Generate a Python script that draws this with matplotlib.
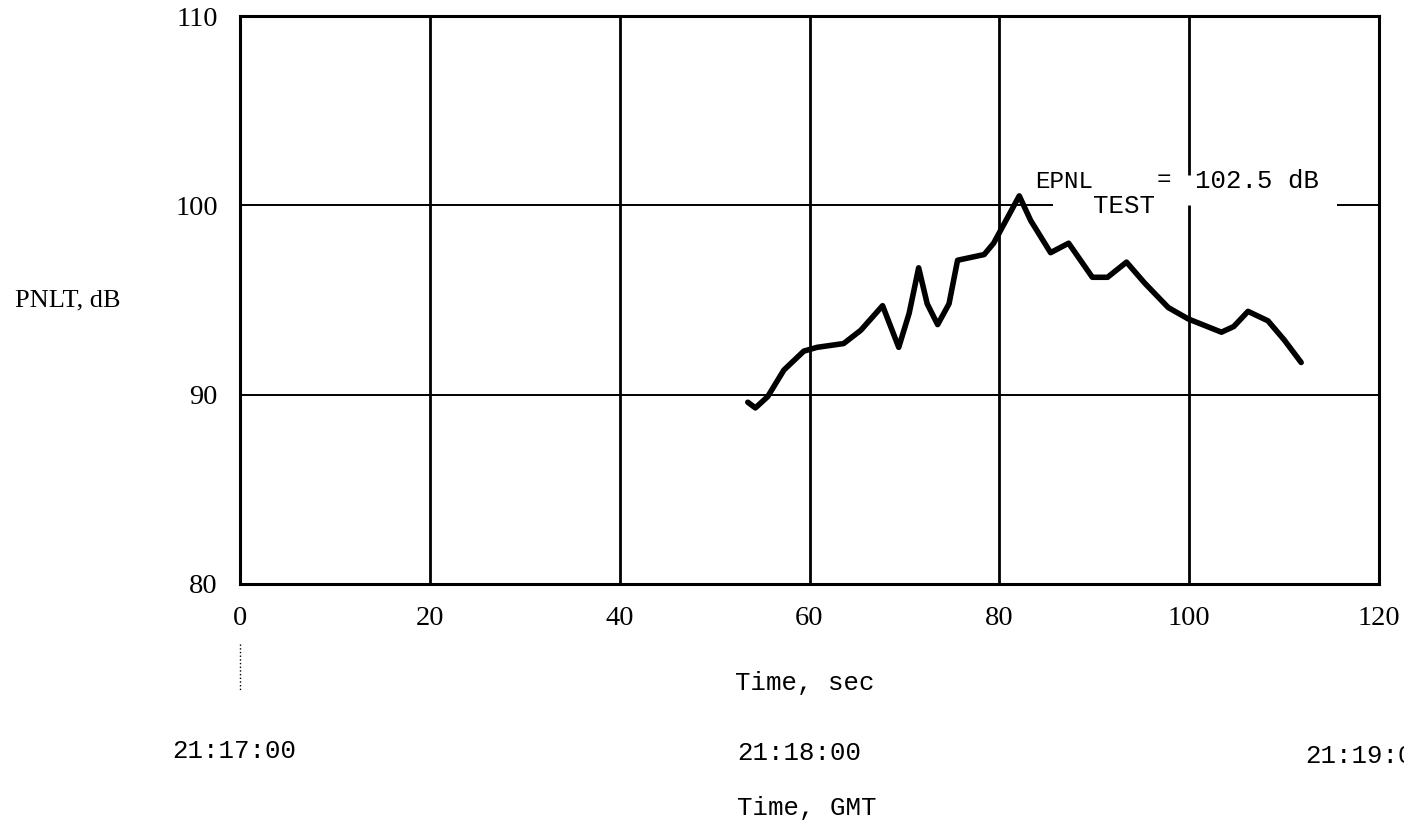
import matplotlib
matplotlib.use("Agg")
import matplotlib.pyplot as plt

# PNLT trace
time_sec = [53.5, 54.3, 55.6, 57.3, 59.4, 60.8, 63.6, 65.4, 67.7, 69.4, 70.5,
            71.5, 72.4, 73.5, 74.7, 75.6, 78.4, 79.4, 82.1, 83.3, 85.4, 87.3,
            89.8, 91.4, 93.4, 95.3, 97.8, 99.9, 103.4, 104.7, 106.2, 108.3,
            110.0, 111.8]
pnlt_db = [89.6, 89.3, 89.9, 91.3, 92.3, 92.5, 92.7, 93.4, 94.7, 92.5, 94.3,
           96.7, 94.8, 93.7, 94.8, 97.1, 97.4, 98.0, 100.5, 99.2, 97.5, 98.0,
           96.2, 96.2, 97.0, 95.9, 94.6, 94.0, 93.3, 93.6, 94.4, 93.9,
           92.9, 91.7]

x_ticks = [0, 20, 40, 60, 80, 100, 120]
y_ticks = [80, 90, 100, 110]
v_grid = [20, 40, 60, 80, 100]
h_grid = [90, 100]

serif = "Liberation Serif"
mono = "Liberation Mono"

W, H = 1404, 824
fig = plt.figure(figsize=(W / 100, H / 100), dpi=100)
ax = fig.add_axes([240 / W, 1 - 584 / H, (1379 - 240) / W, (584 - 16) / H])
ax.set_xlim(0, 120)
ax.set_ylim(80, 110)

# grid, broken where the EPNL label sits
for gx in v_grid:
    if gx == 100:
        ax.vlines(gx, 80, 100.0, color="black", lw=2)
        ax.vlines(gx, 101.6, 110, color="black", lw=2)
    else:
        ax.vlines(gx, 80, 110, color="black", lw=2)
for gy in h_grid:
    if gy == 100:
        ax.hlines(gy, 0, 85.7, color="black", lw=1.4)
        ax.hlines(gy, 115.6, 120, color="black", lw=1.4)
    else:
        ax.hlines(gy, 0, 120, color="black", lw=1.4)

ax.plot(time_sec, pnlt_db, color="black", lw=4, solid_joinstyle="round",
        solid_capstyle="round")

ax.set_xticks(x_ticks)
ax.set_yticks(y_ticks)
ax.tick_params(length=0, labelsize=20.5, pad=16)
for lab in ax.get_xticklabels() + ax.get_yticklabels():
    lab.set_fontfamily(serif)
for s in ax.spines.values():
    s.set_linewidth(2.2)

# EPNL annotation
ax.text(83.8, 100.9, "EPNL", family=mono, fontsize=17.5, va="baseline")
ax.text(89.9, 99.6, "TEST", family=mono, fontsize=18.5, va="baseline")
ax.text(96.6, 101.0, "=", family=mono, fontsize=17.5, va="baseline")
ax.text(100.6, 100.9, "102.5 dB", family=mono, fontsize=18.5, va="baseline")

# dotted marker under zero
ax.plot([0, 0], [-0.105, -0.187], transform=ax.get_xaxis_transform(),
        clip_on=False, color="black", lw=1, ls=":")

def ftext(px, py, s, **kw):
    fig.text(px / W, 1 - py / H, s, va="baseline", ha="left", **kw)

ftext(15, 306, "PNLT, dB", family=serif, fontsize=19)
ftext(735, 690, "Time, sec", family=mono, fontsize=18.5)
ftext(172, 758, "21:17:00", family=mono, fontsize=18.5)
ftext(737, 760, "21:18:00", family=mono, fontsize=18.5)
ftext(1305, 763, "21:19:00", family=mono, fontsize=18.5)
ftext(737, 815, "Time, GMT", family=mono, fontsize=18.5)

fig.savefig("out.png", dpi=100)
